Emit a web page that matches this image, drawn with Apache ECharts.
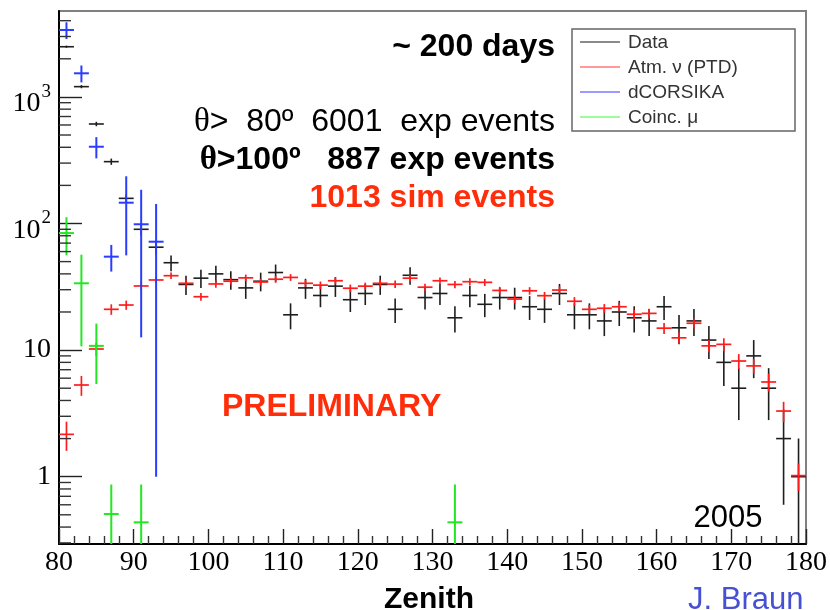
<!DOCTYPE html>
<html>
<head>
<meta charset="utf-8">
<title>Zenith distribution</title>
<script src="https://cdn.jsdelivr.net/npm/echarts@6/dist/echarts.min.js"></script>
<style>
  html, body { margin: 0; padding: 0; background: #fff; }
  #chart { width: 830px; height: 610px; }
</style>
</head>
<body>
<div id="chart"></div>
<script>
// Zenith bin centres (2 degree bins)
const zenithBins = [81, 83, 85, 87, 89, 91, 93, 95, 97, 99,
  101, 103, 105, 107, 109, 111, 113, 115, 117, 119,
  121, 123, 125, 127, 129, 131, 133, 135, 137, 139,
  141, 143, 145, 147, 149, 151, 153, 155, 157, 159,
  161, 163, 165, 167, 169, 171, 173, 175, 177, 179];

// Experimental data: counts per bin and their errors
const dataCounts = [2490, 1205, 611, 308, 158, 90, 65, 49, 33, 37,
  40, 36, 31, 35, 41, 19, 31, 27, 32, 25,
  28, 33, 21, 39, 26, 28, 18, 27, 23, 26,
  26, 22, 21, 28, 19, 19, 17, 20, 18, 17,
  22, 15, 17, 12, 8, 5, 9, 5, 2, 1];
const dataErrors = [49.9, 34.7, 24.7, 17.5, 12.6, 9.5, 8.1, 7.0, 5.7, 6.1,
  6.3, 6.0, 5.6, 5.9, 6.4, 4.4, 5.6, 5.2, 5.7, 5.0,
  5.3, 5.7, 4.6, 6.2, 5.1, 5.3, 4.2, 5.2, 4.8, 5.1,
  5.1, 4.7, 4.6, 5.3, 4.4, 4.4, 4.1, 4.5, 4.2, 4.1,
  4.7, 3.9, 4.1, 3.5, 2.8, 2.2, 3.0, 2.2, 1.4, 1.0];

// Atmospheric neutrino simulation (PTD)
const atmNu = [2.16, 5.3, 10.2, 21.0, 22.7, 32.1, 35.8, 38.7, 33.7, 26.4,
  33.3, 35.0, 37.2, 34.5, 36.3, 37.5, 33.7, 32.6, 35.3, 30.8,
  32.0, 33.7, 33.2, 37.0, 31.4, 35.3, 33.0, 34.7, 34.3, 29.6,
  25.3, 29.4, 26.9, 29.8, 24.3, 21.0, 21.4, 22.0, 19.2, 19.5,
  14.9, 12.5, 16.3, 10.8, 11.1, 8.2, 7.5, 5.6, 3.3, 1.02];
const atmNuErr = [0.56, 0.95, 1.2, 2.0, 1.9, 2.1, 2.2, 2.3, 2.2, 1.9,
  2.2, 2.2, 2.3, 2.2, 2.3, 2.3, 2.2, 2.2, 2.2, 2.1,
  2.1, 2.2, 2.2, 2.3, 2.1, 2.2, 2.2, 2.2, 2.2, 2.0,
  1.9, 2.0, 1.9, 2.0, 1.9, 1.7, 1.7, 1.8, 1.6, 1.7,
  1.5, 1.3, 1.5, 1.2, 1.3, 1.1, 1.0, 0.9, 0.6, 0.25];

// dCORSIKA atmospheric muon background
const corsikaBins = [81, 83, 85, 87, 89, 91, 93];
const corsika = [3375, 1536, 404, 54.7, 146, 98.6, 71.8];
const corsikaErr = [510, 234, 77, 13, 90, 86, 70.8];

// Coincident muons
const coincBins = [81, 83, 85, 87, 91, 133];
const coinc = [84, 33.7, 10.8, 0.507, 0.436, 0.436];
const coincErr = [28, 23, 5.4, 0.36, 0.43, 0.43];

// Axis ranges and minor tick positions of the logarithmic axis
const zenithRange = [80, 180];
const countRange = [0.294, 4770];
const yMinorTicks = [0.3, 0.4, 0.5, 0.6, 0.7, 0.8, 0.9,
  2, 3, 4, 5, 6, 7, 8, 9,
  20, 30, 40, 50, 60, 70, 80, 90,
  200, 300, 400, 500, 600, 700, 800, 900,
  2000, 3000, 4000];

const BIN_HALF = 1;

function zip3(xs, ys, es) {
  return xs.map((x, i) => [x, ys[i], es[i]]);
}

// Histogram point: horizontal bar over the bin, vertical error bar
function crossRenderer(color, width) {
  return function (params, api) {
    const x = api.value(0), y = api.value(1), e = api.value(2);
    const lo = Math.max(y - e, 1e-3);
    const pL = api.coord([x - BIN_HALF, y]);
    const pR = api.coord([x + BIN_HALF, y]);
    const pT = api.coord([x, y + e]);
    const pB = api.coord([x, lo]);
    const st = { stroke: color, lineWidth: width };
    return {
      type: 'group',
      children: [
        { type: 'line', shape: { x1: pL[0], y1: pL[1], x2: pR[0], y2: pR[1] }, style: st },
        { type: 'line', shape: { x1: pT[0], y1: pT[1], x2: pB[0], y2: pB[1] }, style: st }
      ]
    };
  };
}

function minorTickRenderer(params, api) {
  const p = api.coord([zenithRange[0], api.value(1)]);
  return {
    type: 'line',
    shape: { x1: p[0], y1: p[1], x2: p[0] + 12, y2: p[1] },
    style: { stroke: '#333', lineWidth: 1.4 }
  };
}

const sans = 'Liberation Sans, Arial, sans-serif';
const serif = 'Liberation Serif, Times New Roman, serif';

const chart = echarts.init(document.getElementById('chart'), null, { renderer: 'canvas' });

const legendItems = [
  { name: 'Data', color: '#8a8a8a' },
  { name: 'Atm. \u03bd (PTD)', color: '#ff9a9a' },
  { name: 'dCORSIKA', color: '#9a9aff' },
  { name: 'Coinc. \u03bc', color: '#9aff9a' }
];
const legendRows = [42, 67, 92, 117];

const legendGraphics = [
  { type: 'rect', shape: { x: 572, y: 29, width: 223, height: 102 },
    style: { fill: '#fff', stroke: '#666', lineWidth: 1.5 }, z: 100 }
];
legendItems.forEach((it, i) => {
  legendGraphics.push({ type: 'line', shape: { x1: 580, y1: legendRows[i], x2: 620, y2: legendRows[i] },
    style: { stroke: it.color, lineWidth: 2 }, z: 101 });
  legendGraphics.push({ type: 'text', x: 628, y: legendRows[i] + 1, z: 101,
    style: { text: it.name, font: '19px ' + sans, fill: '#333', align: 'left', verticalAlign: 'middle' } });
});

const thetaRich = {
  t: { fontFamily: serif, fontSize: 33 },
  tb: { fontFamily: serif, fontSize: 33, fontWeight: 'bold' }
};

const textGraphics = [
  { type: 'text', x: 555, y: 47, z: 90,
    style: { text: '~ 200 days', font: 'bold 32px ' + sans, fill: '#000', align: 'right', verticalAlign: 'middle' } },
  { type: 'text', x: 555, y: 122, z: 90,
    style: { text: '{t|\u03b8}>  80\u00ba  6001  exp events', font: '32px ' + sans, fill: '#000',
      align: 'right', verticalAlign: 'middle', rich: thetaRich } },
  { type: 'text', x: 555, y: 160, z: 90,
    style: { text: '{tb|\u03b8}>100\u00ba   887 exp events', font: 'bold 32px ' + sans, fill: '#000',
      align: 'right', verticalAlign: 'middle', rich: thetaRich } },
  { type: 'text', x: 555, y: 198, z: 90,
    style: { text: '1013 sim events', font: 'bold 32px ' + sans, fill: '#ff2d0a', align: 'right', verticalAlign: 'middle' } },
  { type: 'text', x: 222, y: 407, z: 90,
    style: { text: 'PRELIMINARY', font: 'bold 32px ' + sans, fill: '#ff2d0a', align: 'left', verticalAlign: 'middle' } },
  { type: 'text', x: 728, y: 518, z: 90,
    style: { text: '2005', font: '31px ' + sans, fill: '#000', align: 'center', verticalAlign: 'middle' } },
  { type: 'text', x: 429, y: 600, z: 90,
    style: { text: 'Zenith', font: 'bold 30px ' + sans, fill: '#000', align: 'center', verticalAlign: 'middle' } },
  { type: 'text', x: 688, y: 600, z: 90,
    style: { text: 'J. Braun', font: '31px ' + sans, fill: '#4650d2', align: 'left', verticalAlign: 'middle' } }
];

const option = {
  animation: false,
  backgroundColor: '#fff',
  grid: {
    left: 59, right: 24, top: 11, bottom: 66,
    show: true, borderColor: '#808080', borderWidth: 2, backgroundColor: 'transparent',
    containLabel: false, outerBoundsMode: 'none'
  },
  xAxis: {
    type: 'value',
    min: zenithRange[0], max: zenithRange[1], interval: 10,
    axisLine: { show: true, onZero: false, lineStyle: { color: '#000', width: 2 } },
    axisTick: { show: true, inside: true, length: 15, lineStyle: { color: '#222', width: 1.4 } },
    minorTick: { show: true, splitNumber: 5, length: 8, lineStyle: { color: '#333', width: 1.4 } },
    splitLine: { show: false },
    axisLabel: { fontFamily: serif, fontSize: 28, color: '#000', margin: 5 }
  },
  yAxis: {
    type: 'log', logBase: 10,
    min: countRange[0], max: countRange[1],
    axisLine: { show: true, lineStyle: { color: '#000', width: 2 } },
    axisTick: { show: true, inside: true, length: 23, lineStyle: { color: '#222', width: 1.4 } },
    splitLine: { show: false },
    axisLabel: {
      margin: 8,
      showMinLabel: false, showMaxLabel: false,
      formatter: function (v) {
        const l = Math.log10(v);
        const p = Math.round(l);
        if (Math.abs(l - p) > 1e-6) return '';
        if (p === 0) return '{n|1}';
        if (p === 1) return '{n|10}';
        return '{b|10}{s|' + p + '}';
      },
      rich: {
        n: { fontFamily: serif, fontSize: 28, color: '#000' },
        b: { fontFamily: serif, fontSize: 28, color: '#000', lineHeight: 28, padding: [14, 0, 0, 0], verticalAlign: 'middle' },
        s: { fontFamily: serif, fontSize: 19, color: '#000', lineHeight: 19, padding: [0, 0, 10, 1], verticalAlign: 'middle' }
      }
    }
  },
  graphic: { elements: legendGraphics.concat(textGraphics) },
  series: [
    {
      name: 'minor ticks', type: 'custom', silent: true, z: 5,
      data: yMinorTicks.map(v => [zenithRange[0], v]),
      encode: { x: 0, y: 1 },
      renderItem: minorTickRenderer
    },
    {
      name: 'Data', type: 'custom', clip: true, z: 2,
      data: zip3(zenithBins, dataCounts, dataErrors),
      encode: { x: 0, y: 1 },
      renderItem: crossRenderer('#1e1e1e', 1.6)
    },
    {
      name: 'Atm. nu (PTD)', type: 'custom', clip: true, z: 3,
      data: zip3(zenithBins, atmNu, atmNuErr),
      encode: { x: 0, y: 1 },
      renderItem: crossRenderer('#ff1c1c', 1.7)
    },
    {
      name: 'dCORSIKA', type: 'custom', clip: true, z: 4,
      data: zip3(corsikaBins, corsika, corsikaErr),
      encode: { x: 0, y: 1 },
      renderItem: crossRenderer('#2a3cff', 2)
    },
    {
      name: 'Coinc. mu', type: 'custom', clip: true, z: 4,
      data: zip3(coincBins, coinc, coincErr),
      encode: { x: 0, y: 1 },
      renderItem: crossRenderer('#22e622', 2)
    }
  ]
};

chart.setOption(option);
</script>
</body>
</html>
